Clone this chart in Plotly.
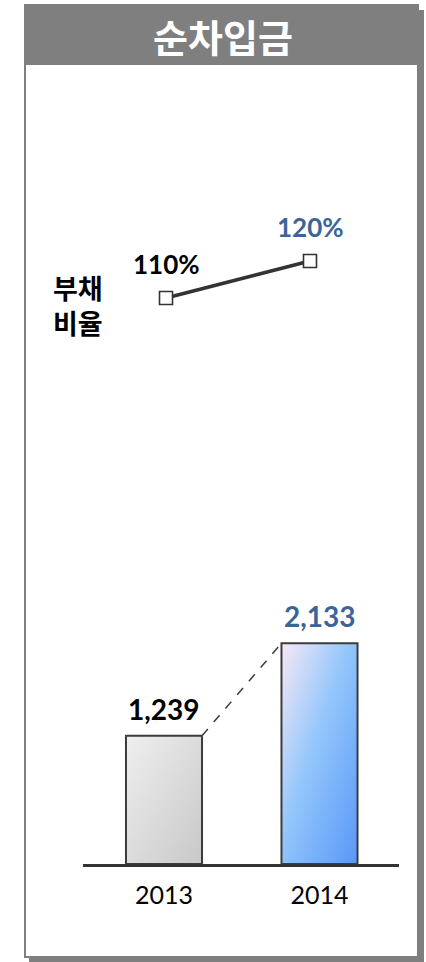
import base64
import plotly.graph_objects as go

# ---------------- data ----------------
years = ["2013", "2014"]
net_debt = [1239, 2133]
net_debt_labels = ["1,239", "2,133"]
debt_ratio = [110, 120]
ratio_labels = ["110%", "120%"]
title_text = "순차입금"
ratio_name = "부채<br>비율"

# ---------------- styling ----------------
W, H = 426, 962
GRAY = "#7f7f7f"
DARK = "#3c3c3c"
BLUE_TXT = "#3b6497"
label_colors = ["#000000", BLUE_TXT]
NUM_FONT = "Lato, 'Open Sans', sans-serif"
KR_FONT = "'Noto Sans CJK KR', 'Noto Sans', sans-serif"


def fx(p):
    return p / W


def fy(p):
    return 1 - p / H


bar_w = 0.489
positions = list(range(len(years)))

# gradient fills for bars (diagonal, top-left -> bottom-right)
grad_stops = [
    [(0, "#efefef"), (1, "#c8c8c8")],
    [(0, "#f7e8f6"), (0.45, "#93c6fb"), (1, "#5897f8")],
]


def svg_uri(stops):
    st = "".join(f'<stop offset="{o}" stop-color="{c}"/>' for o, c in stops)
    svg = (
        '<svg xmlns="http://www.w3.org/2000/svg" width="100" height="100" '
        'viewBox="0 0 100 100" preserveAspectRatio="none">'
        '<defs><linearGradient id="g" x1="0" y1="0" x2="1" y2="1">'
        f"{st}</linearGradient></defs>"
        '<rect x="0" y="0" width="100" height="100" fill="url(#g)"/></svg>'
    )
    return "data:image/svg+xml;base64," + base64.b64encode(svg.encode()).decode()


fig = go.Figure()

# bars (outline; gradient fill provided by images below)
fig.add_trace(
    go.Bar(
        x=positions,
        y=net_debt,
        width=bar_w,
        marker=dict(color="rgba(0,0,0,0)", line=dict(color=DARK, width=2)),
        hoverinfo="skip",
        showlegend=False,
    )
)

# dashed connector between bar tops
fig.add_trace(
    go.Scatter(
        x=[positions[0] + bar_w / 2, positions[1] - bar_w / 2],
        y=[net_debt[0], net_debt[1]],
        mode="lines",
        line=dict(color=DARK, width=1.5, dash="dash"),
        hoverinfo="skip",
        showlegend=False,
    )
)

# debt ratio line
fig.add_trace(
    go.Scatter(
        x=positions,
        y=debt_ratio,
        xaxis="x2",
        yaxis="y2",
        mode="lines+markers",
        line=dict(color="#333333", width=3.5),
        marker=dict(symbol="square", size=13, color="white",
                    line=dict(color="#333333", width=1.6)),
        hoverinfo="skip",
        showlegend=False,
    )
)

images = []
for i, v in enumerate(net_debt):
    images.append(
        dict(
            source=svg_uri(grad_stops[i]),
            xref="x", yref="y",
            x=positions[i], y=v,
            sizex=bar_w, sizey=v,
            xanchor="center", yanchor="top",
            sizing="stretch", layer="below",
        )
    )

annotations = []
for i, v in enumerate(net_debt):
    annotations.append(
        dict(
            x=positions[i], y=v, xref="x", yref="y",
            text=f"<b>{net_debt_labels[i]}</b>", showarrow=False,
            yanchor="middle", yshift=27,
            font=dict(family=NUM_FONT, size=28, color=label_colors[i]),
        )
    )
for i, v in enumerate(debt_ratio):
    annotations.append(
        dict(
            x=positions[i], y=v, xref="x2", yref="y2",
            text=f"<b>{ratio_labels[i]}</b>", showarrow=False,
            yanchor="middle", yshift=34,
            font=dict(family=NUM_FONT, size=26, color=label_colors[i]),
        )
    )
annotations.append(
    dict(
        x=fx(223), y=fy(35), xref="paper", yref="paper",
        text=f"<b>{title_text}</b>", showarrow=False,
        xanchor="center", yanchor="middle",
        font=dict(family=KR_FONT, size=38, color="white"),
    )
)
annotations.append(
    dict(
        x=fx(51), y=fy(305), xref="paper", yref="paper",
        text=f"<b>{ratio_name}</b>", showarrow=False, align="left",
        xanchor="left", yanchor="middle",
        font=dict(family=KR_FONT, size=27, color="black"),
    )
)

shapes = [
    # shadow strips
    dict(type="rect", xref="paper", yref="paper", x0=fx(418), x1=fx(424),
         y0=fy(10), y1=fy(962), fillcolor=GRAY, line=dict(width=0)),
    dict(type="rect", xref="paper", yref="paper", x0=fx(29), x1=fx(424),
         y0=fy(957), y1=fy(962), fillcolor=GRAY, line=dict(width=0)),
    # box outline
    dict(type="rect", xref="paper", yref="paper", x0=fx(25), x1=fx(418),
         y0=fy(5), y1=fy(957), line=dict(color=GRAY, width=2)),
    # title bar
    dict(type="rect", xref="paper", yref="paper", x0=fx(24), x1=fx(418),
         y0=fy(4), y1=fy(65), fillcolor=GRAY, line=dict(width=0)),
]

# axis geometry
x_left, x_right = 83, 399          # baseline extent (px)
bar0_px, bar_step = 164, 155.5     # bar centre positions (px)
line0_px, line_step = 166, 144     # line point positions (px)
base_px = 864                      # baseline (px)
px_per_unit = 0.1035               # bar scale
ratio_px, ratio_ref, ratio_scale = 298, 110, 3.7

xr = [(x_left - bar0_px) / bar_step, (x_right - bar0_px) / bar_step]
x2r = [(x_left - line0_px) / line_step, (x_right - line0_px) / line_step]
yr = [0, base_px / px_per_unit]
y2r = [ratio_ref - (base_px - ratio_px) / ratio_scale, ratio_ref + ratio_px / ratio_scale]

fig.update_layout(
    width=W, height=H,
    margin=dict(l=0, r=0, t=0, b=0),
    paper_bgcolor="white",
    plot_bgcolor="rgba(0,0,0,0)",
    showlegend=False,
    xaxis=dict(
        domain=[fx(x_left), fx(x_right)], range=xr,
        tickvals=positions, ticktext=years,
        tickfont=dict(family=NUM_FONT, size=25, color="black"),
        showline=True, linecolor="#333333", linewidth=3,
        showgrid=False, zeroline=False, ticks="", fixedrange=True,
        ticklabelstandoff=7,
    ),
    yaxis=dict(
        domain=[fy(base_px), 1], range=yr, visible=False,
        showgrid=False, zeroline=False, fixedrange=True,
    ),
    xaxis2=dict(overlaying="x", range=x2r, visible=False, fixedrange=True),
    yaxis2=dict(overlaying="y", range=y2r, visible=False, fixedrange=True),
    images=images,
    annotations=annotations,
    shapes=shapes,
)

fig.write_html("out.html")
